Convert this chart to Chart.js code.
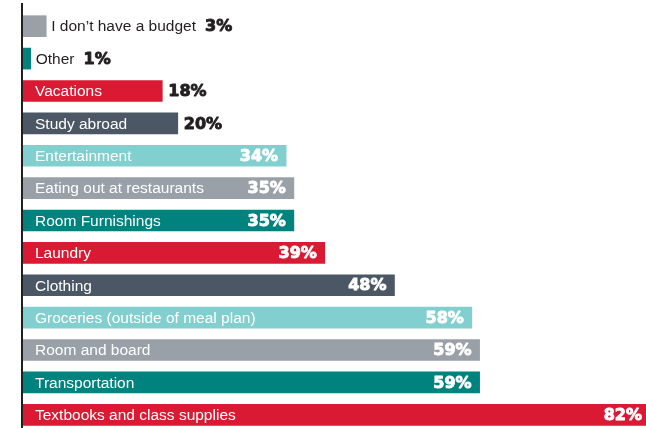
<!DOCTYPE html>
<html>
<head>
<meta charset="utf-8">
<script src="https://cdn.jsdelivr.net/npm/chart.js@4"></script>
<style>
  html, body { margin: 0; padding: 0; background: #fff; overflow: hidden; }
  #wrap { width: 646px; height: 428px; overflow: hidden; }
</style>
</head>
<body>
<div id="wrap"><canvas id="budgetChart" width="646" height="431"></canvas></div>
<script>
// Spending categories, top to bottom
const categories = [
    'I don\u2019t have a budget',
    'Other',
    'Vacations',
    'Study abroad',
    'Entertainment',
    'Eating out at restaurants',
    'Room Furnishings',
    'Laundry',
    'Clothing',
    'Groceries (outside of meal plan)',
    'Room and board',
    'Transportation',
    'Textbooks and class supplies'
];
const percents = [3, 1, 18, 20, 34, 35, 35, 39, 48, 58, 59, 59, 82];

const GRAY = '#99a0a8';
const TEAL = '#00837f';
const RED = '#da1a33';
const SLATE = '#4b5765';
const LIGHT_TEAL = '#82cfcf';
const barColors = [GRAY, TEAL, RED, SLATE, LIGHT_TEAL, GRAY, TEAL, RED, SLATE, LIGHT_TEAL, GRAY, TEAL, RED];

const LABEL_FONT = '15.5px "Liberation Sans", Arial, sans-serif';
const PCT_FONT = 'bold 16px "DejaVu Sans", sans-serif';

// vertical rule on the left edge
const axisLine = {
    id: 'axisLine',
    afterDraw(chart) {
        const ctx = chart.ctx;
        ctx.save();
        ctx.fillStyle = '#231f20';
        ctx.fillRect(chart.chartArea.left - 2, 3, 2, 430);
        ctx.restore();
    }
};

// heavy percentage text: fill plus a thin stroke in the same colour
function drawPct(ctx, text, x, y, color) {
    ctx.font = PCT_FONT;
    ctx.fillStyle = color;
    ctx.strokeStyle = color;
    ctx.lineWidth = 0.9;
    ctx.lineJoin = 'round';
    ctx.fillText(text, x, y);
    ctx.strokeText(text, x, y);
}

// category names and percentages written on / beside each bar
const barLabels = {
    id: 'barLabels',
    afterDatasetsDraw(chart) {
        const ctx = chart.ctx;
        const area = chart.chartArea;
        const bars = chart.getDatasetMeta(0).data;
        ctx.save();
        ctx.textBaseline = 'middle';
        bars.forEach((bar, i) => {
            const value = percents[i];
            const end = Math.min(bar.x, area.right + 4);
            const y = bar.y + 1;
            const pct = value + '%';

            if (value < 5) {
                // too short: name and value sit after the bar
                ctx.font = LABEL_FONT;
                ctx.fillStyle = '#231f20';
                ctx.textAlign = 'left';
                const lx = end + 5;
                ctx.fillText(categories[i], lx, y);
                const w = ctx.measureText(categories[i]).width;
                drawPct(ctx, pct, lx + w + 9, y, '#231f20');
                return;
            }

            ctx.font = LABEL_FONT;
            ctx.fillStyle = '#ffffff';
            ctx.textAlign = 'left';
            ctx.fillText(categories[i], bar.base + 12, y);

            if (value < 30) {
                drawPct(ctx, pct, end + 6, y, '#231f20');
            } else {
                ctx.textAlign = 'right';
                drawPct(ctx, pct, end - 8, y, '#ffffff');
            }
        });
        ctx.restore();
    }
};

new Chart(document.getElementById('budgetChart'), {
    type: 'bar',
    data: {
        labels: categories,
        datasets: [{
            data: percents,
            backgroundColor: barColors,
            borderWidth: 0,
            barThickness: 21
        }]
    },
    options: {
        indexAxis: 'y',
        responsive: false,
        animation: false,
        layout: { padding: { left: 23, top: 10, right: 0, bottom: 0 } },
        plugins: {
            legend: { display: false },
            tooltip: { enabled: false }
        },
        scales: {
            x: { display: false, min: 0, max: 80.5 },
            y: { display: false }
        }
    },
    plugins: [axisLine, barLabels]
});
</script>
</body>
</html>
